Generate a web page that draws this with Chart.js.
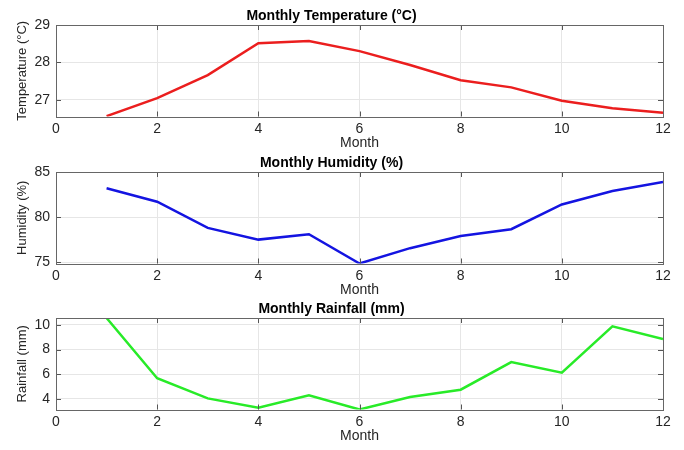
<!DOCTYPE html>
<html>
<head>
<meta charset="utf-8">
<script src="https://cdn.jsdelivr.net/npm/chart.js@4"></script>
<style>
  body { margin: 0; background: #fff; }
  .wrap { position: absolute; left: 0; width: 684px; }
</style>
</head>
<body>
<div class="wrap" style="top:0px;height:152px"><canvas id="tempChart"></canvas></div>
<div class="wrap" style="top:147px;height:152px"><canvas id="humChart"></canvas></div>
<div class="wrap" style="top:293px;height:152px"><canvas id="rainChart"></canvas></div>
<script>
// Month numbers (x values)
const months = [1, 2, 3, 4, 5, 6, 7, 8, 9, 10, 11, 12];

// Series
const temperature = [26.56, 27.04, 27.66, 28.51, 28.57, 28.30, 27.93, 27.52, 27.33, 26.97, 26.77, 26.65];
const humidity = [83.2, 81.7, 78.8, 77.5, 78.1, 74.85, 76.55, 77.9, 78.65, 81.4, 82.9, 83.9];
const rainfall = [10.55, 5.68, 4.05, 3.3, 4.3, 3.15, 4.16, 4.75, 6.98, 6.13, 9.87, 8.85];

// Axis limits / tick steps
const xLimits = [0, 12];
const xStep = 2;
const tempLimits = [26.55, 29];
const humLimits = [74.85, 85];
const rainLimits = [3.15, 10.55];

const FONT = "'Liberation Sans', Arial, Helvetica, sans-serif";
const TICK_COLOR = '#262626';

// MATLAB-like box with inward tick marks on all four sides
const boxPlugin = {
    id: 'boxPlugin',
    afterDraw(chart) {
        const {ctx, chartArea: a, scales} = chart;
        const len = 5;
        ctx.save();
        ctx.strokeStyle = '#555';
        ctx.lineWidth = 1;
        ctx.beginPath();
        scales.x.ticks.forEach(t => {
            const px = Math.round(scales.x.getPixelForValue(t.value)) + 0.5;
            ctx.moveTo(px, a.bottom); ctx.lineTo(px, a.bottom - len);
            ctx.moveTo(px, a.top); ctx.lineTo(px, a.top + len);
        });
        scales.y.ticks.forEach(t => {
            const py = Math.round(scales.y.getPixelForValue(t.value)) + 0.5;
            ctx.moveTo(a.left, py); ctx.lineTo(a.left + len, py);
            ctx.moveTo(a.right, py); ctx.lineTo(a.right - len, py);
        });
        ctx.stroke();
        ctx.strokeStyle = '#666';
        ctx.strokeRect(Math.round(a.left) + 0.5, Math.round(a.top) + 0.5,
            Math.round(a.right - a.left), Math.round(a.bottom - a.top));
        ctx.restore();
    }
};

function makeChart(id, title, yTitle, values, color, yLimits, yStep) {
    const ctx = document.getElementById(id).getContext('2d');
    return new Chart(ctx, {
        type: 'line',
        data: {
            datasets: [{
                data: months.map((m, i) => ({x: m, y: values[i]})),
                borderColor: color,
                borderWidth: 2.5,
                pointRadius: 0,
                tension: 0,
                fill: false
            }]
        },
        options: {
            responsive: true,
            maintainAspectRatio: false,
            animation: false,
            layout: { padding: { left: 0, right: 21, top: 0, bottom: 0 } },
            plugins: {
                legend: { display: false },
                tooltip: { enabled: false },
                title: {
                    display: true,
                    text: title,
                    color: '#000',
                    font: { family: FONT, size: 14, weight: 'bold' },
                    padding: { top: 7.5, bottom: 0.7 }
                }
            },
            scales: {
                x: {
                    type: 'linear',
                    min: xLimits[0],
                    max: xLimits[1],
                    ticks: { stepSize: xStep, padding: 4, color: TICK_COLOR, font: { family: FONT, size: 14 }, maxRotation: 0 },
                    grid: { color: '#e6e6e6', drawTicks: false },
                    border: { display: false },
                    title: { display: true, text: 'Month', color: TICK_COLOR, font: { family: FONT, size: 14 }, padding: { top: 0, bottom: 0 } },
                    afterFit(scale) { scale.height = 35.5; }
                },
                y: {
                    type: 'linear',
                    min: yLimits[0],
                    max: yLimits[1],
                    ticks: { stepSize: yStep, includeBounds: false, padding: 6, color: TICK_COLOR, font: { family: FONT, size: 14 } },
                    grid: { color: '#e6e6e6', drawTicks: false },
                    border: { display: false },
                    title: { display: true, text: yTitle, color: TICK_COLOR, font: { family: FONT, size: 13 }, padding: { top: 15, bottom: 0 } },
                    afterFit(scale) { scale.width = 56; }
                }
            }
        },
        plugins: [boxPlugin]
    });
}

makeChart('tempChart', 'Monthly Temperature (°C)', 'Temperature (°C)', temperature, 'rgb(235,30,30)', tempLimits, 1);
makeChart('humChart', 'Monthly Humidity (%)', 'Humidity (%)', humidity, 'rgb(20,20,225)', humLimits, 5);
makeChart('rainChart', 'Monthly Rainfall (mm)', 'Rainfall (mm)', rainfall, 'rgb(40,235,40)', rainLimits, 2);
</script>
</body>
</html>
